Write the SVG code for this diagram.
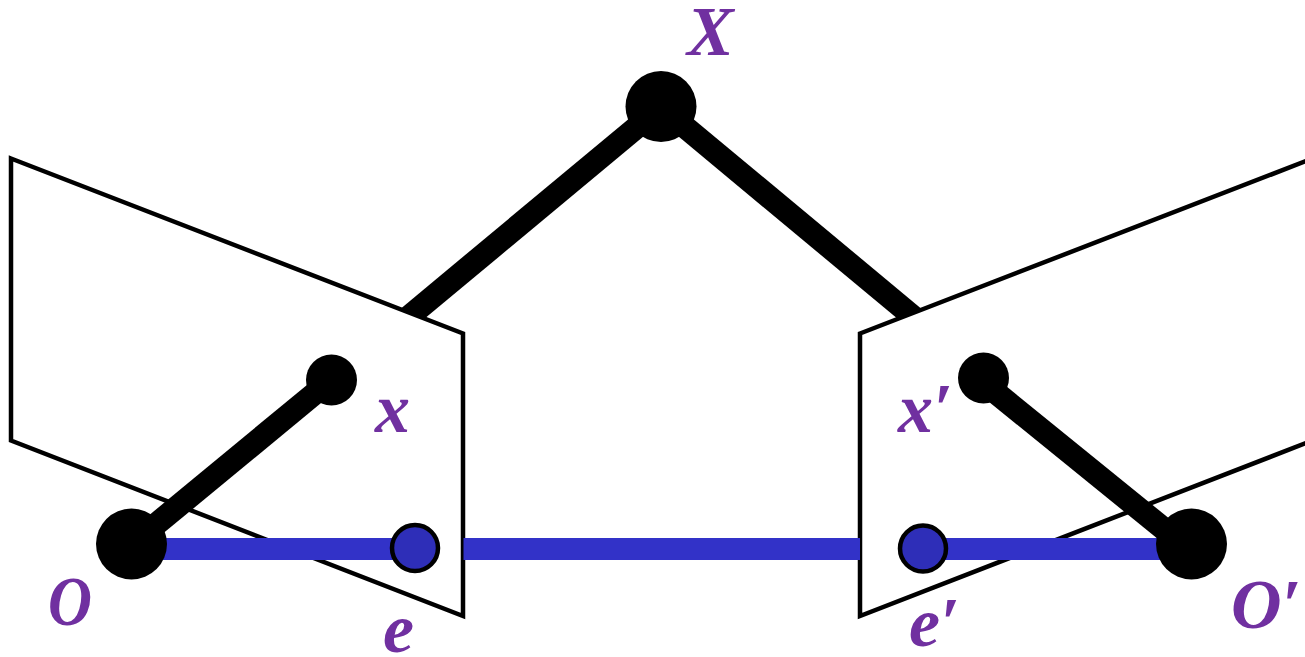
<svg xmlns="http://www.w3.org/2000/svg" width="1305" height="657" viewBox="0 0 1305 657">
<style>
.plane{fill:#fff;stroke:#000;stroke-width:4.5;stroke-linejoin:miter}
.ray{stroke:#000;stroke-width:23;fill:none}
.base{stroke:#3232c8;stroke-width:22;fill:none}
.big,.small{fill:#000}
.epi{fill:#2e2eb8;stroke:#000;stroke-width:4.5}
.lbl{font-family:"Liberation Serif","DejaVu Serif",serif;font-weight:bold;font-style:italic;fill:#7030a0;font-size:70px}
</style>
<g id="connectors-back">
<path class="ray" d="M661 107L405 320"/>
<path class="ray" d="M661 107L917 320"/>
</g>
<g id="plane-left"><polygon class="plane" points="11,158.500 463,333.500 463,616 11,440.500"/></g>
<g id="plane-right"><polygon class="plane" points="860,333.500 1310,159.500 1310,441.500 860,616"/></g>
<g id="connectors">
<path class="ray" d="M131 545L331 380"/>
<path class="ray" d="M1191 551L984 383"/>
<path class="base" d="M131 549H415"/>
<path class="base" d="M463.500 549H860"/>
<path class="base" d="M923 549H1191"/>
</g>
<g id="node-X"><circle class="big" cx="661" cy="106.500" r="35.500"/><text class="lbl" x="687" y="55">X</text></g>
<g id="node-O"><circle class="big" cx="131.500" cy="544" r="35.500"/><text class="lbl" x="48" y="625" textLength="44" lengthAdjust="spacingAndGlyphs">O</text></g>
<g id="node-O-prime"><circle class="big" cx="1191.500" cy="544" r="35.500"/><text class="lbl" x="1231" y="628">O′</text></g>
<g id="node-x"><circle class="small" cx="331.500" cy="380" r="25.500"/><text class="lbl" x="375" y="432">x</text></g>
<g id="node-x-prime"><circle class="small" cx="983.500" cy="378" r="25.500"/><text class="lbl" x="898" y="432">x′</text></g>
<g id="node-e"><circle class="epi" cx="415" cy="548" r="23"/><text class="lbl" x="383" y="652">e</text></g>
<g id="node-e-prime"><circle class="epi" cx="923" cy="548.500" r="23"/><text class="lbl" x="909" y="646">e′</text></g>
</svg>
